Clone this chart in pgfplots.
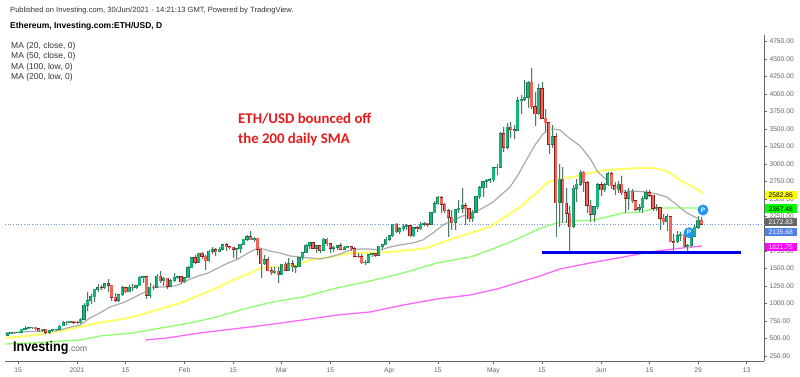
\documentclass[border=0pt]{standalone}
\usepackage{fontspec}
\setmainfont{Liberation Sans}
\newfontfamily\carlito{Carlito}
\usepackage{pgfplots}
\usepackage{pgfplotstable}
\pgfplotsset{compat=1.18}
\definecolor{upfill}{HTML}{12B57A}
\definecolor{upedge}{HTML}{1F7A58}
\definecolor{dnfill}{HTML}{F0645A}
\definecolor{dnedge}{HTML}{8C1F1C}
\definecolor{wick}{HTML}{4C7A68}
\definecolor{ghost}{HTML}{DFE6E2}
\definecolor{txt}{HTML}{333333}
\definecolor{tick}{HTML}{666666}
\definecolor{pblue}{HTML}{1E96F0}
\definecolor{ma20}{HTML}{AAAAAA}
\definecolor{ma50}{HTML}{FFFF66}
\definecolor{ma100}{HTML}{8CFF6E}
\definecolor{ma200}{HTML}{FF66FF}
\definecolor{priceline}{HTML}{6F8FF0}
\definecolor{tagblue}{HTML}{4F7FE8}
\definecolor{tagmag}{HTML}{FF00FF}
\definecolor{taggreen}{HTML}{00FF00}
\definecolor{tagyellow}{HTML}{FFFF00}
\definecolor{taggray}{HTML}{666666}
\definecolor{annot}{HTML}{E61C1C}
\definecolor{support}{HTML}{0000E6}
\pgfplotstableread{
d o h l c
-3 545 575 535 568
-2 568 595 560 590
-1 590 597 570 586
0 586 595 580 590
1 590 640 585 636
2 636 675 625 643
3 643 660 630 655
4 655 670 640 659
5 659 665 620 640
6 640 650 600 610
7 610 640 600 635
8 635 640 570 590
9 590 620 570 612
10 612 635 600 626
11 626 640 615 635
12 635 690 630 680
13 680 745 675 735
14 735 745 700 730
15 730 755 725 750
16 750 755 715 737
17 737 750 715 730
18 730 790 715 775
19 775 1005 770 978
20 978 1160 890 1040
21 1040 1135 990 1100
22 1100 1210 1030 1208
23 1208 1280 1160 1225
24 1225 1260 1190 1224
25 1224 1300 1210 1288
26 1288 1350 1170 1262
27 1262 1265 1040 1090
28 1090 1150 1030 1045
29 1045 1140 1030 1130
30 1130 1250 1110 1230
31 1230 1245 1150 1170
32 1170 1260 1160 1232
33 1232 1275 1180 1230
34 1230 1270 1210 1258
35 1258 1390 1250 1375
36 1375 1400 1290 1382
37 1382 1385 1065 1120
38 1120 1300 1080 1235
39 1235 1260 1200 1233
40 1233 1420 1230 1392
41 1392 1470 1300 1325
42 1325 1375 1250 1360
43 1360 1370 1210 1250
44 1250 1350 1240 1330
45 1330 1440 1310 1380
46 1380 1400 1350 1385
47 1385 1390 1280 1312
48 1312 1380 1300 1370
49 1370 1540 1365 1515
50 1515 1670 1505 1660
51 1660 1690 1560 1595
52 1595 1730 1590 1720
53 1720 1740 1640 1680
54 1680 1690 1480 1610
55 1610 1770 1600 1750
56 1750 1810 1710 1770
57 1770 1790 1680 1745
58 1745 1810 1735 1780
59 1780 1860 1770 1840
60 1840 1870 1760 1815
61 1815 1830 1780 1805
62 1805 1815 1660 1780
63 1780 1790 1640 1785
64 1785 1860 1730 1850
65 1850 1930 1840 1920
66 1920 1980 1900 1960
67 1960 2040 1905 1915
68 1915 1955 1880 1935
69 1935 1945 1690 1780
70 1780 1790 1370 1570
71 1570 1690 1550 1625
72 1625 1670 1460 1470
73 1470 1530 1410 1445
74 1445 1520 1430 1460
75 1460 1530 1290 1415
76 1415 1570 1410 1565
77 1565 1600 1460 1480
78 1480 1650 1475 1570
79 1570 1620 1450 1525
80 1525 1550 1440 1530
81 1530 1670 1525 1655
82 1655 1735 1620 1725
83 1725 1850 1720 1835
84 1835 1880 1780 1870
85 1870 1880 1780 1795
86 1795 1840 1730 1825
87 1825 1840 1720 1765
88 1765 1945 1760 1925
89 1925 1935 1830 1855
90 1855 1870 1730 1795
91 1795 1830 1745 1810
92 1810 1840 1765 1825
93 1825 1870 1770 1775
94 1775 1830 1765 1810
95 1810 1830 1790 1815
96 1815 1825 1760 1785
97 1785 1810 1670 1680
98 1680 1725 1650 1670
99 1670 1705 1570 1585
100 1585 1625 1555 1590
101 1590 1710 1585 1700
102 1700 1730 1670 1715
103 1715 1720 1670 1690
104 1690 1830 1680 1820
105 1820 1850 1770 1845
106 1845 1950 1840 1920
107 1920 1985 1900 1970
108 1970 2145 1960 2135
109 2135 2150 2010 2025
110 2025 2090 1990 2075
111 2075 2145 2040 2110
112 2110 2135 2060 2115
113 2115 2130 1960 1970
114 1970 2095 1960 2085
115 2085 2110 2030 2070
116 2070 2170 2060 2135
117 2135 2170 2110 2150
118 2150 2160 2100 2135
119 2135 2310 2130 2300
120 2300 2470 2290 2430
121 2430 2545 2410 2515
122 2515 2545 2300 2420
123 2420 2445 2300 2330
124 2330 2350 1950 2235
125 2235 2340 2060 2160
126 2160 2350 2050 2340
127 2340 2480 2290 2365
128 2365 2660 2300 2400
129 2400 2440 2120 2360
130 2360 2370 2170 2215
131 2215 2340 2170 2310
132 2310 2540 2300 2530
133 2530 2680 2500 2660
134 2660 2760 2530 2745
135 2745 2790 2660 2755
136 2755 2800 2720 2770
137 2770 2960 2740 2945
138 2945 3000 2840 2950
139 2950 3450 2950 3430
140 3430 3530 3170 3240
141 3240 3580 3210 3525
142 3525 3600 3370 3490
143 3490 3560 3350 3480
144 3480 3950 3480 3900
145 3900 3980 3720 3925
146 3925 4200 3900 3950
147 3950 4190 3800 4170
148 4170 4370 3790 3815
149 3815 4030 3540 3720
150 3720 4150 3700 4075
151 4075 4170 3640 3650
152 3650 3780 3450 3590
153 3590 3600 3140 3280
154 3280 3560 3230 3385
155 3385 3440 1950 2440
156 2440 3000 2100 2780
157 2780 2950 2150 2440
158 2440 2650 2150 2295
159 2295 2400 1740 2100
160 2100 2700 2080 2650
161 2650 2790 2450 2710
162 2710 2910 2690 2880
163 2880 2895 2600 2730
164 2730 2760 2300 2410
165 2410 2490 2170 2280
166 2280 2400 2170 2385
167 2385 2720 2350 2700
168 2700 2740 2540 2630
169 2630 2720 2600 2700
170 2700 2880 2680 2860
171 2860 2890 2640 2690
172 2690 2740 2550 2630
173 2630 2760 2580 2710
174 2710 2830 2560 2590
175 2590 2620 2300 2510
176 2510 2650 2340 2610
177 2610 2640 2440 2470
178 2470 2490 2330 2350
179 2350 2430 2310 2370
180 2370 2540 2300 2510
181 2510 2620 2480 2590
182 2590 2630 2530 2550
183 2550 2560 2330 2365
184 2365 2420 2330 2370
185 2370 2380 2060 2225
186 2225 2280 2120 2170
187 2170 2280 2040 2240
188 2240 2250 1880 1885
189 1885 2000 1720 1875
190 1885 2040 1870 1970
191 1970 2030 1890 1990
192 1990 2010 1800 1815
193 1815 1850 1730 1830
194 1830 1990 1810 1965
195 1965 2130 1950 2095
196 2095 2250 2075 2190
197 2190 2235 2120 2135
}\candles
\pgfplotsset{
  wicks/.style 2 args={draw=none,mark=none,forget plot,
    error bars/.cd,y dir=both,y explicit,error mark=none,
    error bar style={line width=#1,draw=#2}},
}
\begin{document}
\begin{tikzpicture}[x=1pt,y=1pt]
\path[use as bounding box,fill=white] (0,0) rectangle (800,376);
\begin{axis}[
  at={(5pt,15pt)},anchor=south west,
  scale only axis,width=759pt,height=326pt,
  xmin=-3.75,xmax=215,ymin=179,ymax=4844,
  axis x line*=bottom,axis y line*=right,
  axis line style={draw=tick,line width=1pt},
  tick align=outside,
  major tick length=3pt,
  tick style={draw=tick,line width=0.6pt},
  xtick={0,17,31,48,62,76,90,107,121,137,151,168,182,196,210},
  xticklabels={15,2021,15,Feb,15,Mar,15,Apr,15,May,15,Jun,15,29,13},
  ytick={250,500,...,4750},
  yticklabel style={/pgf/number format/fixed,/pgf/number format/fixed zerofill,/pgf/number format/precision=2,/pgf/number format/1000 sep={},/pgf/number format/assume math mode=true,xshift=-1pt},
  ticklabel style={font=\fontsize{6.7}{8}\selectfont,text=tick},
  unbounded coords=discard,
  clip=false,
]
% price line
\addplot[draw=priceline,line width=0.7pt,dotted,forget plot] coordinates {(-3.75,2135) (215,2135)};
% MA 200
\addplot[draw=ma200,line width=1.3pt,forget plot] coordinates {
(36.9,480)(42.9,508)(52.4,580)(62,637)(72.6,701)(82.1,766)(91.9,837)(101.4,880)(111,980)(120.7,1066)(130.3,1124)(138,1209)(144.7,1310)(150.4,1395)(156.2,1496)(164.8,1581)(174.4,1667)(182.1,1739)(188.8,1782)(197.1,1825)};
% MA 100
\addplot[draw=ma100,line width=1.3pt,forget plot] coordinates {
(-3.7,422)(4.3,437)(17.9,480)(23.6,537)(33.1,580)(42.9,666)(49.6,723)(57.3,809)(64,909)(69.7,980)(72.6,1016)(82.1,1095)(91.9,1224)(101.4,1324)(111,1438)(120.7,1581)(130.3,1667)(136,1767)(141.8,1882)(147.6,2011)(150.4,2075)(155.3,2154)(159.9,2182)(165.7,2197)(169.7,2240)(174.4,2297)(179.3,2311)(184.1,2369)(188.8,2369)(197.4,2367)};
% MA 50
\addplot[draw=ma50,line width=2pt,forget plot] coordinates {
(-3.7,508)(2.6,537)(9.2,580)(17.9,666)(22.8,723)(28.5,766)(33.1,809)(38,880)(42.9,952)(47.6,1023)(52.4,1124)(57.3,1224)(62,1338)(66.9,1438)(69.7,1503)(72.6,1524)(78.4,1539)(81.3,1567)(84.1,1624)(89.9,1667)(95.7,1725)(101.4,1725)(107.2,1739)(113,1767)(117.9,1796)(122.5,1882)(130.3,2011)(136,2097)(139.8,2225)(144.7,2383)(147.6,2512)(150.4,2626)(152.4,2726)(155.3,2784)(159.9,2812)(164.8,2869)(169.7,2912)(174.4,2927)(179.3,2941)(183,2941)(187,2898)(190.8,2769)(194.5,2669)(197.4,2582)};
% MA 20
\addplot[draw=ma20,line width=1.2pt,forget plot] coordinates {
(-3.7,580)(0.6,594)(7.2,608)(11.2,613)(14.1,651)(17.9,694)(20.7,794)(23.6,866)(26.5,952)(30.8,1023)(33.7,1095)(36.6,1166)(38,1224)(40.3,1238)(43.2,1238)(46.1,1267)(49,1338)(51.9,1395)(54.8,1438)(57.6,1510)(60.5,1581)(63.4,1639)(66.3,1725)(68.3,1775)(69.7,1796)(72.6,1753)(75.5,1725)(78.4,1682)(81.3,1667)(84.1,1653)(87,1639)(89.9,1667)(92.8,1710)(95.7,1767)(98.6,1782)(101.4,1782)(104.3,1767)(107.2,1810)(110.1,1839)(113.8,1868)(116.7,1911)(119.6,2011)(122.5,2125)(125.4,2197)(128.2,2254)(131.1,2297)(134,2369)(136.9,2454)(139.8,2583)(141.8,2669)(144.1,2841)(146.7,3070)(149,3270)(151.3,3427)(152.7,3478)(154.2,3499)(156.2,3485)(158.5,3385)(162,3256)(164.8,3084)(167.1,2884)(169.7,2769)(171.5,2698)(174.4,2612)(177.2,2612)(181.3,2597)(184.1,2569)(187,2526)(189.9,2411)(192.8,2297)(195.7,2225)(197.4,2172)};
% ghost wicks
\addplot[wicks={1.2pt}{ghost}] table[x expr=\thisrow{d}+0.3,y=l,y error plus expr=\thisrow{h}-\thisrow{l},y error minus expr=0] {\candles};
% wicks
\addplot[wicks={0.6pt}{wick}] table[x=d,y=l,y error plus expr=\thisrow{h}-\thisrow{l},y error minus expr=0] {\candles};
% up bodies
\addplot[wicks={3.2pt}{upedge}] table[x expr={\thisrow{c}>=\thisrow{o}?\thisrow{d}:nan},y expr=\thisrow{o}-7,y error plus expr=\thisrow{c}-\thisrow{o}+14,y error minus expr=0] {\candles};
\addplot[wicks={2.4pt}{upfill}] table[x expr={\thisrow{c}>=\thisrow{o}?\thisrow{d}:nan},y=o,y error plus expr=\thisrow{c}-\thisrow{o},y error minus expr=0] {\candles};
% down bodies
\addplot[wicks={3.2pt}{dnedge}] table[x expr={\thisrow{c}<\thisrow{o}?\thisrow{d}:nan},y expr=\thisrow{c}-7,y error plus expr=\thisrow{o}-\thisrow{c}+14,y error minus expr=0] {\candles};
\addplot[wicks={2.4pt}{dnfill}] table[x expr={\thisrow{c}<\thisrow{o}?\thisrow{d}:nan},y=c,y error plus expr=\thisrow{o}-\thisrow{c},y error minus expr=0] {\candles};
% support line
\addplot[draw=support,line width=2.2pt,forget plot] coordinates {(151,1732)(208.3,1732)};
% P markers
\addplot[only marks,mark=*,mark size=5.2pt,mark options={draw=pblue,fill=pblue},forget plot,
  nodes near coords={\textbf{P}},nodes near coords style={anchor=center,text=white,font=\fontsize{6.5}{7}\selectfont,inner sep=0pt}] coordinates {(197.4,2340)(193.4,2015)};
\end{axis}
% right-hand price tags
\tikzset{tag/.style={anchor=west,minimum width=32pt,minimum height=8.6pt,inner sep=0pt,font=\fontsize{6.7}{8}\selectfont,align=center}}
\node[tag,fill=tagyellow,text=black] at (764.5,181) {2582.86};
\node[tag,fill=taggreen,text=black] at (764.5,167.3) {2367.48};
\node[tag,fill=taggray,text=white] at (764.5,154) {2172.83};
\node[tag,fill=tagblue,text=white] at (764.5,144) {2135.68};
\node[tag,fill=tagmag,text=white] at (764.5,129) {1821.75};
% header
\tikzset{hd/.style={anchor=base west,inner sep=0pt,text=txt,font=\fontsize{7.6}{9}\selectfont}}
\node[hd] at (10,363) {Published on Investing.com, 30/Jun/2021 - 14:21:13 GMT, Powered by TradingView.};
\node[hd,font=\fontsize{8.5}{10}\selectfont\bfseries,text=black] at (10,348) {Ethereum, Investing.com:ETH/USD, D};
\node[hd,font=\fontsize{8.5}{10}\selectfont] at (11,328) {MA (20, close, 0)};
\node[hd,font=\fontsize{8.5}{10}\selectfont] at (11,317.5) {MA (50, close, 0)};
\node[hd,font=\fontsize{8.5}{10}\selectfont] at (11,307) {MA (100, low, 0)};
\node[hd,font=\fontsize{8.5}{10}\selectfont] at (11,296.5) {MA (200, low, 0)};
% annotation
\node[anchor=base west,inner sep=0pt,text=annot,font=\carlito\fontsize{14.8}{16}\selectfont\bfseries] at (238,252.5) {ETH/USD bounced off};
\node[anchor=base west,inner sep=0pt,text=annot,font=\carlito\fontsize{14.8}{16}\selectfont\bfseries] at (238,233) {the 200 daily SMA};
% logo
\node[anchor=base west,inner sep=0pt,text=black,font=\fontsize{14}{16}\selectfont\bfseries,transform shape,xscale=0.9] at (13,25) {Investing};
\node[anchor=base west,inner sep=0pt,text=black!60,font=\fontsize{8.5}{10}\selectfont] at (68.5,25) {.com};
\end{tikzpicture}
\end{document}
